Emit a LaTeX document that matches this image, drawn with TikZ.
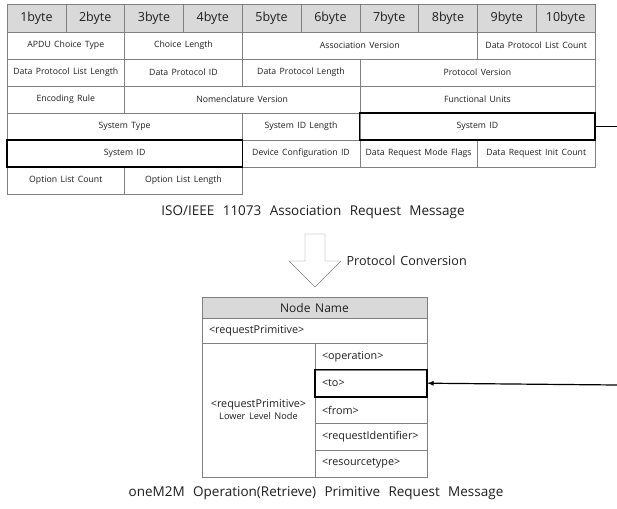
\documentclass[tikz,border=0pt]{standalone}
\usepackage{fontspec}
\setmainfont{Open Sans}[WordSpace=1.5]
\newfontfamily\capfont{Open Sans}[WordSpace=2.4]
\usetikzlibrary{arrows}
\definecolor{rulegray}{RGB}{128,128,128}
\definecolor{headgray}{RGB}{217,217,217}
\definecolor{textblack}{RGB}{30,30,30}

\begin{document}
\begin{tikzpicture}[x=1pt,y=-1pt,
    cell/.style={draw=rulegray,inner sep=0pt,minimum height=27pt,text=textblack,font=\fontsize{8.7}{10}\selectfont},
    hdr/.style={cell,fill=headgray,minimum width=58.8pt,minimum height=28pt,font=\fontsize{12.5}{13}\selectfont},
    lcell/.style={cell,align=left,inner xsep=7pt,font=\fontsize{10.8}{12}\selectfont},
    selbox/.style={draw=black,line width=1.6pt},
    link/.style={draw=black,line width=1.2pt},
    caption/.style={text=textblack,font=\capfont\fontsize{13.5}{15}\selectfont}]
  \useasboundingbox (0,0) rectangle (617,508);
  % byte header
  \foreach \i in {1,...,10}
    \node[hdr] (b\i) at ({7+58.8*(\i-0.5)},18) {\i byte};
  % association request fields: row/first col/last col/name/text
  \foreach \r/\a/\b/\n/\t in {
      1/1/2/apdu/APDU Choice Type, 1/3/4/chlen/Choice Length,
      1/5/8/assoc/Association Version, 1/9/10/dplc/Data Protocol List Count,
      2/1/2/dpll/Data Protocol List Length, 2/3/4/dpid/Data Protocol ID,
      2/5/6/dplen/Data Protocol Length, 2/7/10/pver/Protocol Version,
      3/1/2/enc/Encoding Rule, 3/3/6/nom/Nomenclature Version,
      3/7/10/func/Functional Units,
      4/1/4/stype/System Type, 4/5/6/sidlen/System ID Length,
      4/7/10/sida/System ID,
      5/1/4/sidb/System ID, 5/5/6/devcfg/Device Configuration ID,
      5/7/8/drmf/Data Request Mode Flags, 5/9/10/dric/Data Request Init Count,
      6/1/2/olc/Option List Count, 6/3/4/oll/Option List Length}
    \node[cell,minimum width={58.8*(\b-\a+1)}] (\n) at ({7+58.8*(\a-1+\b)/2},{45.5+27*(\r-1)}) {\t};
  \draw[selbox] (sida.north west) rectangle (sida.south east);
  \draw[selbox] (sidb.north west) rectangle (sidb.south east);
  \node[caption] (cap1) at (313,212) {ISO/IEEE 11073 Association Request Message};

  % conversion arrow
  \draw[rulegray,fill=white] (305,234) -- (325,234) -- (325,261) -- (341,261)
    -- (315,287) -- (289,261) -- (305,261) -- cycle;
  \node[text=textblack,font=\fontsize{12.6}{14}\selectfont,anchor=west] (conv) at (343,261) {Protocol Conversion};

  % oneM2M primitive
  \node[cell,fill=headgray,minimum width=225pt,minimum height=21pt,font=\fontsize{12}{13}\selectfont] (nname) at (314.5,307.5) {Node Name};
  \node[lcell,text width=211pt,minimum height=25pt] (rp) at (314.5,330.5) {<requestPrimitive>};
  \node[cell,align=center,minimum width=113pt,minimum height=134pt,font=\fontsize{9.2}{12}\selectfont] (lower) at (258.5,410)
    {{\fontsize{10.8}{12}\selectfont <requestPrimitive>}\\Lower Level Node};
  \foreach \i/\n/\t in {0/op/<operation>, 1/to/<to>, 2/from/<from>, 3/rid/<requestIdentifier>, 4/rty/<resourcetype>}
    \node[lcell,text width=98pt,minimum height=26.8pt] (\n) at (371,{356.4+26.8*\i}) {\t};
  \draw[selbox] (to.north west) rectangle (to.south east);
  \node[caption] (cap2) at (316,493) {oneM2M Operation(Retrieve) Primitive Request Message};

  % links off to the right
  \coordinate (outR) at (617,126.5);
  \coordinate (inR) at (617,385);
  \draw[link] (sida.east) -- (outR);
  \draw[link,-latex] (inR) -- (to.east);
\end{tikzpicture}
\end{document}
